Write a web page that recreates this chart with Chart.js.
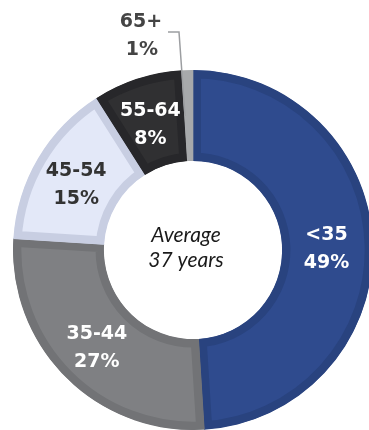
<!DOCTYPE html>
<html>
<head>
<meta charset="utf-8">
<script src="https://cdn.jsdelivr.net/npm/chart.js@4.4.1/dist/chart.umd.min.js"></script>
<style>
  html, body { margin: 0; padding: 0; background: #ffffff; overflow: hidden; }
  #wrap { position: absolute; left: 0; top: 0; width: 386px; height: 430px; }
</style>
</head>
<body>
<div id="wrap"><canvas id="c"></canvas></div>
<script>
// Age bands and their share of respondents (%)
const ageBands = ['<35', '35-44', '45-54', '55-64', '65+'];
const shares = [49, 27, 15, 8, 1];
const fillColors = ['#2f4b8e', '#7f8083', '#e3e8f8', '#303032', '#b3b5b7'];
const edgeColors = ['#29437f', '#727376', '#c8cee2', '#27272a', '#a7a9ab'];
const labelColors = ['#ffffff', '#ffffff', '#333333', '#ffffff', '#444444'];
const centerLines = ['Average', '37 years'];

const labelFont = 'bold 19px "DejaVu Sans"';
const centerFont = 'italic 21px Lato';

// Writes band name and percentage on each ring segment, plus the centre caption
const segmentLabels = {
  id: 'segmentLabels',
  afterDatasetsDraw(chart) {
    const ctx = chart.ctx;
    const meta = chart.getDatasetMeta(0);
    ctx.save();
    ctx.textAlign = 'center';
    ctx.textBaseline = 'alphabetic';
    meta.data.forEach((arc, i) => {
      const lines = [ageBands[i], shares[i] + '%'];
      ctx.fillStyle = labelColors[i];
      ctx.font = labelFont;
      if (i === ageBands.length - 1) {
        // small slice: label sits above the ring with a leader line
        const top = arc.y - arc.outerRadius;
        ctx.fillText(lines[0], arc.x - 52, top - 43);
        ctx.fillText(lines[1], arc.x - 51, top - 15);
        ctx.strokeStyle = '#9c9ea1';
        ctx.lineWidth = 1.5;
        ctx.beginPath();
        ctx.moveTo(arc.x - 25, top - 38);
        ctx.lineTo(arc.x - 14, top - 38);
        ctx.lineTo(arc.x - 8, top + 46);
        ctx.stroke();
      } else {
        const p = arc.tooltipPosition();
        ctx.fillText(lines[0], p.x - 1, p.y - 6);
        ctx.fillText(lines[1], p.x - 1, p.y + 22);
      }
    });
    const a = meta.data[0];
    ctx.fillStyle = '#1a1a1a';
    ctx.font = centerFont;
    ctx.fillText(centerLines[0], a.x - 7, a.y - 8);
    ctx.fillText(centerLines[1], a.x - 7, a.y + 17);
    ctx.restore();
  }
};

new Chart(document.getElementById('c'), {
  type: 'doughnut',
  data: {
    labels: ageBands,
    datasets: [{
      data: shares,
      backgroundColor: fillColors,
      borderColor: edgeColors,
      borderWidth: 8,
      borderAlign: 'inner',
      hoverOffset: 0
    }]
  },
  options: {
    responsive: true,
    maintainAspectRatio: false,
    animation: false,
    cutout: '49.5%',
    rotation: 0,
    layout: { padding: { top: 70, bottom: 0, left: 0, right: 0 } },
    plugins: {
      legend: { display: false },
      tooltip: { enabled: false }
    },
    events: []
  },
  plugins: [segmentLabels]
});
</script>
</body>
</html>
